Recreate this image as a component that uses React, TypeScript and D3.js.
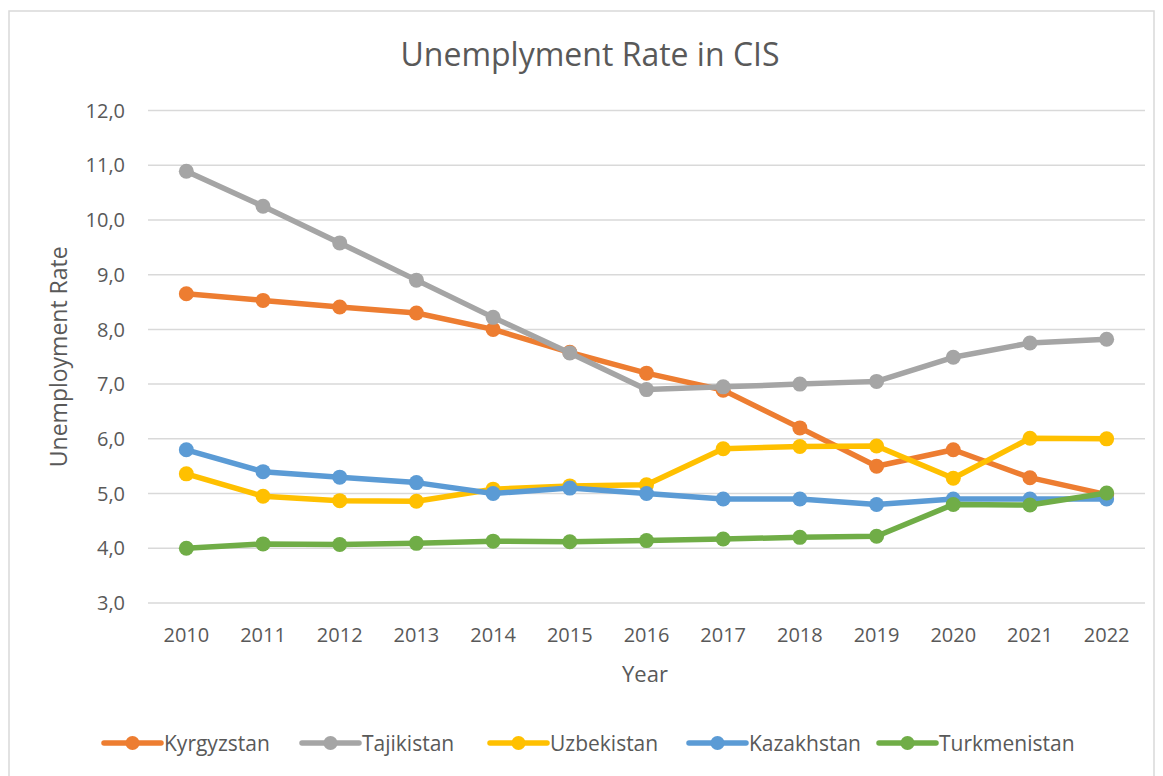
import React from "react";
import * as d3 from "d3";

const years = [2010, 2011, 2012, 2013, 2014, 2015, 2016, 2017, 2018, 2019, 2020, 2021, 2022];

const kyrgyzstan = [8.65, 8.53, 8.41, 8.3, 8.0, 7.58, 7.2, 6.89, 6.2, 5.5, 5.8, 5.29, 4.98];
const tajikistan = [10.89, 10.25, 9.58, 8.9, 8.22, 7.57, 6.9, 6.95, 7.0, 7.05, 7.49, 7.75, 7.82];
const uzbekistan = [5.36, 4.95, 4.87, 4.86, 5.08, 5.14, 5.16, 5.82, 5.86, 5.87, 5.28, 6.01, 6.0];
const kazakhstan = [5.8, 5.4, 5.3, 5.2, 5.0, 5.1, 5.0, 4.9, 4.9, 4.8, 4.9, 4.9, 4.9];
const turkmenistan = [4.0, 4.08, 4.07, 4.09, 4.13, 4.12, 4.14, 4.17, 4.2, 4.22, 4.8, 4.79, 5.01];

const yTicks = [3, 4, 5, 6, 7, 8, 9, 10, 11, 12];

const series = [
  { name: "Kyrgyzstan", values: kyrgyzstan, color: "#ED7D31" },
  { name: "Tajikistan", values: tajikistan, color: "#A5A5A5" },
  { name: "Uzbekistan", values: uzbekistan, color: "#FFC000" },
  { name: "Kazakhstan", values: kazakhstan, color: "#5B9BD5" },
  { name: "Turkmenistan", values: turkmenistan, color: "#70AD47" },
];

const font = "'Open Sans', sans-serif";
const textColor = "#595959";

export default function App() {
  const W = 1163;
  const H = 776;
  const plot = { left: 148, right: 1145, top: 110.5, bottom: 603 };

  const x = d3
    .scaleBand<number>()
    .domain(years)
    .range([plot.left, plot.right]);
  const y = d3.scaleLinear().domain([3, 12]).range([plot.bottom, plot.top]);
  const cx = (yr: number) => (x(yr) as number) + x.bandwidth() / 2;

  const line = d3
    .line<number>()
    .x((_, i) => cx(years[i]))
    .y((d) => y(d));

  const fmt = (v: number) => d3.format(".1f")(v).replace(".", ",");

  // legend line start positions
  const legendX = [104, 302, 490, 689, 879];

  return (
    <svg
      width={W}
      height={H}
      style={{ position: "absolute", left: 0, top: 0, background: "#fff" }}
      fontFamily={font}
    >
      <rect x={9} y={11} width={1145} height={780} fill="#fff" stroke="#d9d9d9" strokeWidth={1.5} />

      <text x={590} y={66} textAnchor="middle" fontSize={32} fill={textColor}>
        Unemplyment Rate in CIS
      </text>

      {/* grid + y ticks */}
      {yTicks.map((t) => (
        <g key={t}>
          <line x1={plot.left} x2={plot.right} y1={y(t)} y2={y(t)} stroke="#d9d9d9" strokeWidth={1.5} />
          <text x={125} y={y(t)} dy="0.36em" textAnchor="end" fontSize={20} fill={textColor}>
            {fmt(t)}
          </text>
        </g>
      ))}

      {/* x ticks */}
      {years.map((yr) => (
        <text key={yr} x={cx(yr)} y={642} textAnchor="middle" fontSize={20} fill={textColor}>
          {yr}
        </text>
      ))}

      <text x={645} y={682} textAnchor="middle" fontSize={22} fill={textColor}>
        Year
      </text>
      <text
        transform={`translate(67, ${(plot.top + plot.bottom) / 2}) rotate(-90)`}
        textAnchor="middle"
        fontSize={23}
        fill={textColor}
      >
        Unemployment Rate
      </text>

      {/* series */}
      {series.map((s) => (
        <g key={s.name}>
          <path d={line(s.values) || ""} fill="none" stroke={s.color} strokeWidth={5.5} strokeLinejoin="round" />
          {s.values.map((v, i) => (
            <circle key={i} cx={cx(years[i])} cy={y(v)} r={7.5} fill={s.color} />
          ))}
        </g>
      ))}

      {/* legend */}
      {series.map((s, i) => (
        <g key={s.name} transform={`translate(${legendX[i]}, 743)`}>
          <line x1={0} x2={57} y1={0} y2={0} stroke={s.color} strokeWidth={5.5} strokeLinecap="round" />
          <circle cx={28.5} cy={0} r={7} fill={s.color} />
          <text x={60} y={0} dy="0.36em" fontSize={21} fill={textColor}>
            {s.name}
          </text>
        </g>
      ))}
    </svg>
  );
}
